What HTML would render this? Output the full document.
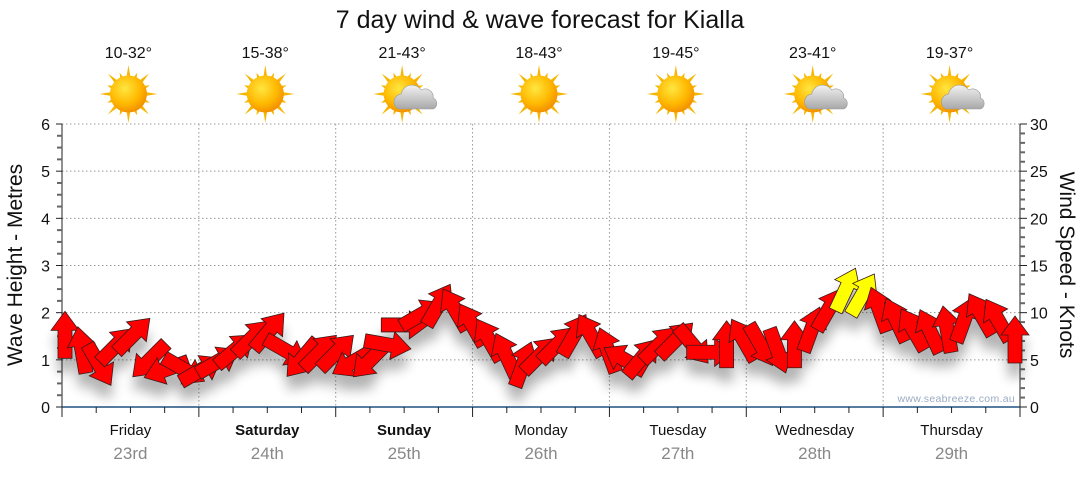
<!DOCTYPE html>
<html><head><meta charset="utf-8"><style>
body{margin:0;background:#fff;width:1080px;height:475px;overflow:hidden;font-family:"Liberation Sans","DejaVu Sans",sans-serif}
</style></head><body>
<svg id="chart" width="1080" height="475" xmlns="http://www.w3.org/2000/svg" font-family="Liberation Sans, DejaVu Sans, sans-serif">
<defs>
<filter id="shadow" x="-50%" y="-50%" width="200%" height="250%"><feGaussianBlur stdDeviation="6"/></filter>
<radialGradient id="sunG" cx="0.4" cy="0.35" r="0.7"><stop offset="0" stop-color="#ffe640"/><stop offset="0.6" stop-color="#ffb800"/><stop offset="1" stop-color="#f08a00"/></radialGradient>
<linearGradient id="cloudG" x1="0" y1="0" x2="0" y2="1"><stop offset="0" stop-color="#f2f2f2"/><stop offset="1" stop-color="#a8a8a8"/></linearGradient>
</defs>
<text x="540" y="28" text-anchor="middle" font-size="25" fill="#111">7 day wind &amp; wave forecast for Kialla</text>
<g id="topg"></g>
<g id="grid"></g>
<g id="axes"></g>
<g id="shadows" filter="url(#shadow)" opacity="0.3"></g>
<g id="arrows"></g>
<text x="1015" y="402" text-anchor="end" font-size="10.5" fill="#9aabc4" letter-spacing="0.3">www.seabreeze.com.au</text>
<text transform="translate(22,265) rotate(-90)" text-anchor="middle" font-size="21" fill="#111">Wave Height - Metres</text>
<text transform="translate(1060,265) rotate(90)" text-anchor="middle" font-size="21" fill="#111">Wind Speed - Knots</text>
</svg>
<script>
const days=["Friday","Saturday","Sunday","Monday","Tuesday","Wednesday","Thursday"];
const dates=["23rd","24th","25th","26th","27th","28th","29th"];
const temps=["10-32°","15-38°","21-43°","18-43°","19-45°","23-41°","19-37°"];
const icons=["sun","sun","cloud","sun","sun","cloud","cloud"];
const boldDays=[false,true,true,false,false,false,false];
const leftTicks=[0,1,2,3,4,5,6];
const rightTicks=[0,5,10,15,20,25,30];
const windSpeed=[7.6,6,4.5,6.5,7.6,5,4,4,
 3.9,4.8,6,7.3,8,6,5.2,5.8,
 5.8,4.8,5,6.6,8.7,9.8,10.8,10.3,
 8.7,7.1,5.5,4.5,5.5,6.6,7.6,7.6,
 6,5,5.2,6.6,7.1,6.6,5.8,6.6,
 7.1,6.6,6,6.6,8.2,10.3,12.4,11.9,
 10.3,9.2,8.2,8,8.2,9.2,9.8,9.2,7.1];
const windDir=[0,-10,150,45,45,225,250,120,
 60,60,50,45,40,120,220,45,
 45,240,225,100,90,60,30,-30,
 -30,-30,-25,20,45,45,30,-30,
 -20,-60,40,45,45,140,90,0,
 -30,150,160,0,20,30,25,30,
 -20,-25,-30,-25,-10,20,-30,-30,0];
const NS="http://www.w3.org/2000/svg";
const X0=62,X1=1020,Y0=407,Y1=124;
const dayW=(X1-X0)/7;
const yL=v=>Y0-(v/6)*(Y0-Y1);
const yR=v=>Y0-(v/30)*(Y0-Y1);
const xH=h=>65+h*(950/168);
function mk(tag,attrs,parent){const e=document.createElementNS(NS,tag);for(const k in attrs)e.setAttribute(k,attrs[k]);parent.appendChild(e);return e;}
const grid=document.getElementById('grid'),axes=document.getElementById('axes'),topG=document.getElementById('topg');
leftTicks.forEach(v=>{if(v>0){const l=mk('line',{x1:X0,x2:X1,y1:yL(v),y2:yL(v),stroke:'#999','stroke-dasharray':'1.5,2.5','stroke-width':1},grid);

}});
for(let i=1;i<7;i++){const x=X0+i*dayW;const l=mk('line',{x1:x,x2:x,y1:Y1,y2:Y0,stroke:'#999','stroke-dasharray':'1.5,2.5'},grid);

}
mk('line',{x1:X0,x2:X0,y1:Y1,y2:Y0+6,stroke:'#222'},axes);
mk('line',{x1:X1,x2:X1,y1:Y1,y2:Y0,stroke:'#222'},axes);
mk('line',{x1:X0,x2:X1,y1:Y0,y2:Y0,stroke:'#1f5080','stroke-width':1.5},axes);
for(let i=0;i<=24;i++){const y=Y0-i*(Y0-Y1)/24;const maj=i%4==0;mk('line',{x1:maj?X0-6:X0-5,x2:X0,y1:y,y2:y,stroke:maj?'#222':'#666','stroke-width':maj?1:2},axes);}
for(let i=0;i<=30;i++){const y=yR(i);const maj=i%5==0;mk('line',{x1:X1,x2:X1+(maj?7:5),y1:y,y2:y,stroke:maj?'#222':'#666','stroke-width':maj?1:2},axes);}
for(let i=0;i<=28;i++){const x=X0+i*dayW/4;const maj=i%4==0;mk('line',{x1:x,x2:x,y1:Y0,y2:Y0+(maj?10:6),stroke:'#222'},axes);}
leftTicks.forEach(v=>{const t=mk('text',{x:50,y:yL(v)+6,'text-anchor':'end','font-size':16,fill:'#111'},axes);t.textContent=v;

});
rightTicks.forEach(v=>{const t=mk('text',{x:1030,y:yR(v)+6,'font-size':16,fill:'#111'},axes);t.textContent=v;

});
days.forEach((d,i)=>{const cx=X0+(i+0.5)*dayW;
 const t=mk('text',{x:cx,y:435,'text-anchor':'middle','font-size':15,fill:'#111','font-weight':boldDays[i]?'bold':'normal'},axes);t.textContent=d;
 
 
 const t2=mk('text',{x:cx,y:459,'text-anchor':'middle','font-size':17,fill:'#888'},axes);t2.textContent=dates[i];
 
 
 const t3=mk('text',{x:cx-2,y:58,'text-anchor':'middle','font-size':16,fill:'#111'},topG);t3.textContent=temps[i];
 
 
 const g=mk('g',{transform:`translate(${cx-2},94)`},topG);
 
 
 for(let k=0;k<16;k++){const a=k*Math.PI/8;const r=k%2?23:29;
  mk('polygon',{points:`${Math.cos(a-0.13)*16},${Math.sin(a-0.13)*16} ${Math.cos(a)*r},${Math.sin(a)*r} ${Math.cos(a+0.13)*16},${Math.sin(a+0.13)*16}`,fill:'#f5b500'},g);}
 mk('circle',{r:18.5,fill:'url(#sunG)'},g);
 if(icons[i]=='cloud'){mk('path',{d:'M-4,15 a8,8 0 0 1 3,-15 a11,11 0 0 1 20,-4 a8,8 0 0 1 12,8 a6,6 0 0 1 0,11 z',fill:'url(#cloudG)',stroke:'#999','stroke-width':0.6},g);}
});
const arrowsG=document.getElementById('arrows'),shadowsG=document.getElementById('shadows');
const shape='M0,-24 L14,-5 L7,-5 L7,23 L-7,23 L-7,-5 L-14,-5 Z';
windSpeed.forEach((s,i)=>{const x=xH(i*3),y=yR(s);
 const sh=mk('path',{d:shape,transform:`translate(${x},${y+14}) rotate(${windDir[i]})`,fill:'#000'},shadowsG);
 
 
 const a=mk('path',{d:shape,transform:`translate(${x},${y}) rotate(${windDir[i]})`,fill:s>=11?'#ffff00':'#ff0000',stroke:'#3a1a1a','stroke-width':0.8},arrowsG);
 
 
});
</script>
</body></html>
